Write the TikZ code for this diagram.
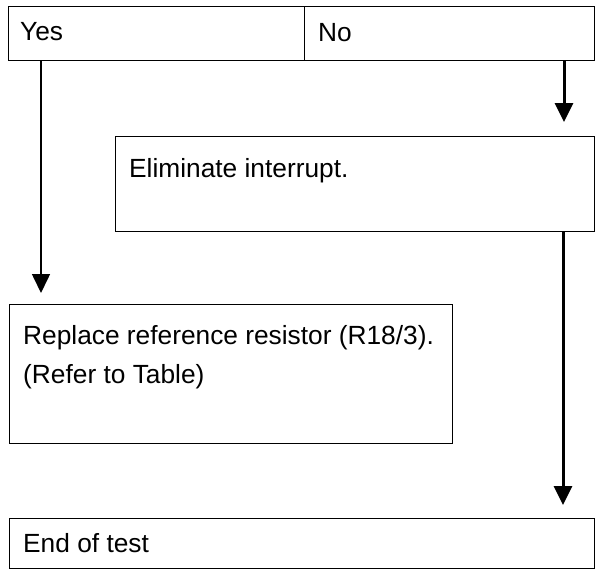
\documentclass[tikz,border=0pt]{standalone}
\usepackage{fontspec}
\setmainfont{Liberation Sans}
\usetikzlibrary{arrows.meta,calc}
\begin{document}
\begin{tikzpicture}[x=1pt,y=-1pt,
  box/.style={draw=black,line width=1.2pt,rectangle,inner sep=0pt,anchor=north west},
  lbl/.style={anchor=base west,inner sep=0pt,font=\fontsize{26.3}{39}\selectfont},
  thinarr/.style={draw=black,line width=1.6pt,-{Triangle[width=18pt,length=19pt]}},
  thickarr/.style={draw=black,line width=3pt,-{Triangle[width=18pt,length=19pt]}}]
\useasboundingbox[fill=white] (0,0) rectangle (595,570);
% boxes
\node[box,minimum width=296pt,minimum height=54pt] (yes) at (8,6) {};
\node[box,minimum width=289.5pt,minimum height=54pt] (no) at (304,6) {};
\node[box,minimum width=478.5pt,minimum height=95pt] (elim) at (115,136) {};
\node[box,minimum width=443pt,minimum height=139pt] (rep) at (9,304) {};
\node[box,minimum width=584.5pt,minimum height=50pt] (end) at (9,518) {};
% labels
\node[lbl] (tyes) at (20,41) {Yes};
\node[lbl] (tno) at (318,41.5) {No};
\node[lbl] (telim) at (129,177) {Eliminate interrupt.};
\node[lbl] (trep1) at (23,344) {Replace reference resistor (R18/3).};
\node[lbl] (trep2) at (23,383) {(Refer to Table)};
\node[lbl] (tend) at (23,552) {End of test};
% connectors
\coordinate (ya) at (41,0);
\coordinate (na) at (564,0);
\coordinate (ea) at (563,0);
\draw[thinarr,shorten >=-1pt] (yes.south -| ya) -- ($(ya |- rep.north)+(0,-12)$);
\draw[thickarr] (no.south -| na) -- ($(na |- elim.north)+(0,-14)$);
\draw[thickarr] (elim.south -| ea) -- ($(ea |- end.north)+(0,-13)$);
\end{tikzpicture}
\end{document}
